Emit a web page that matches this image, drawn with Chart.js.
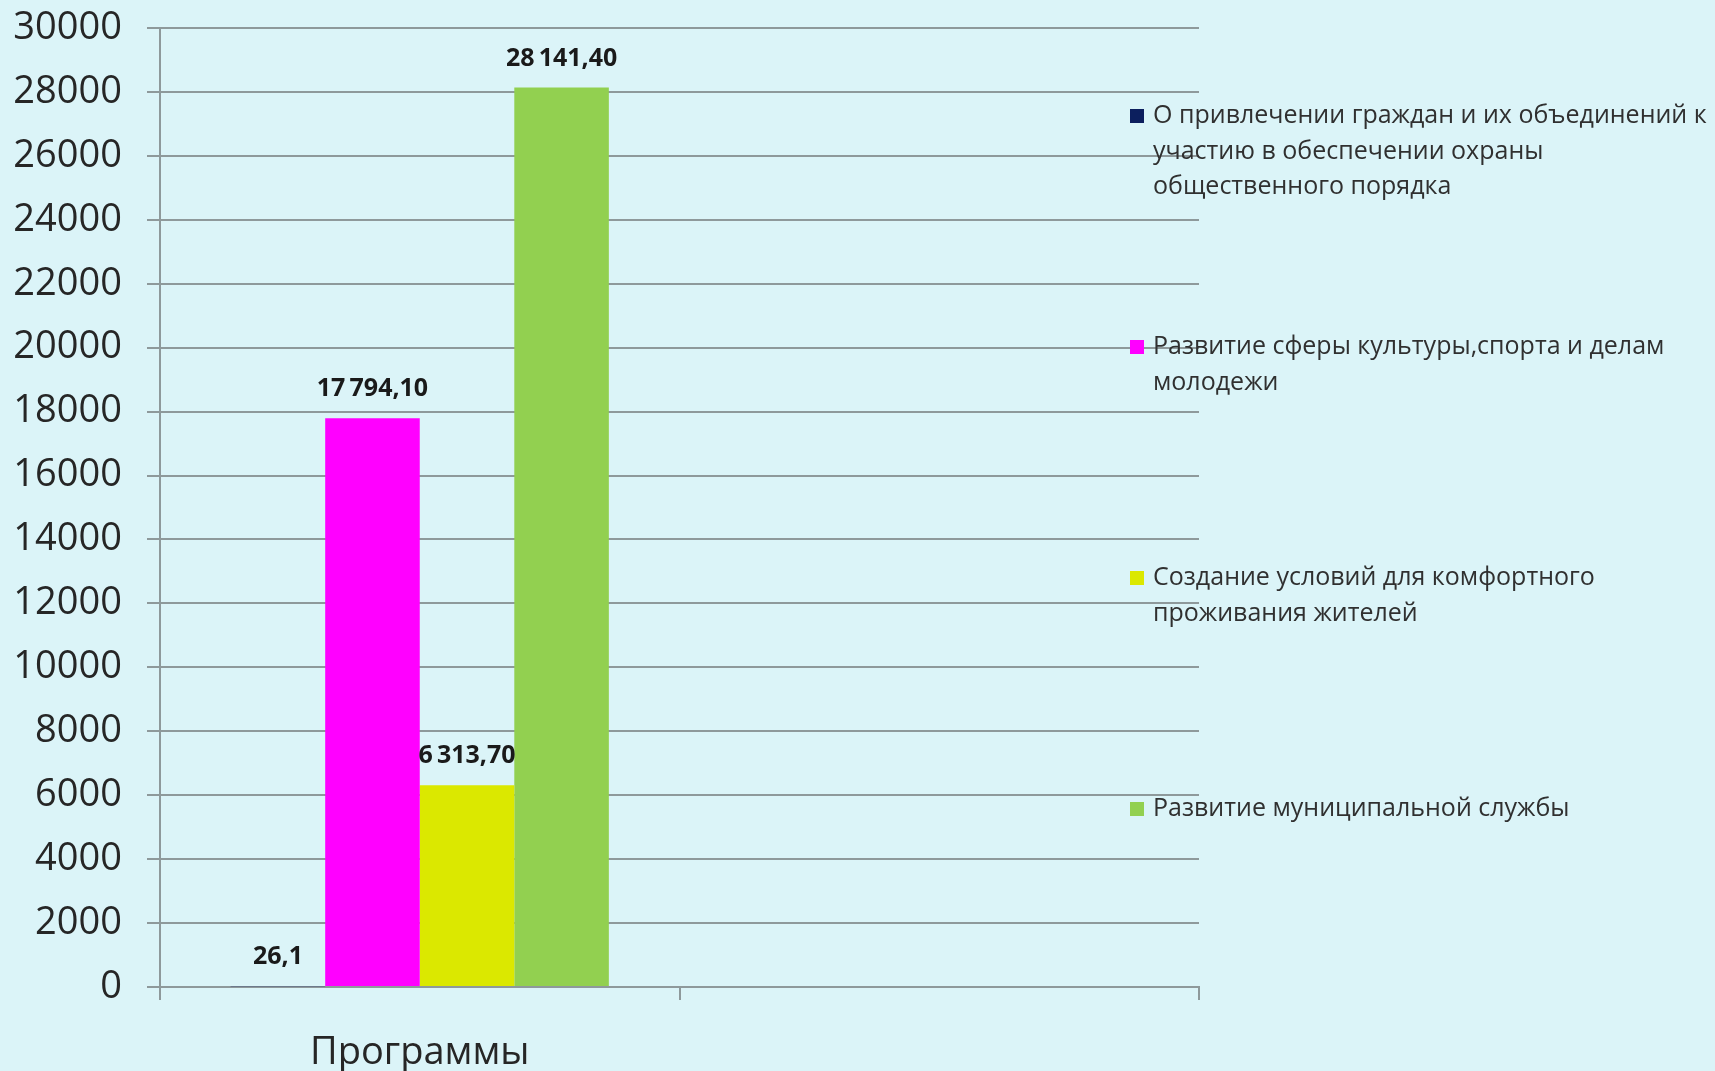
<!DOCTYPE html>
<html>
<head>
<meta charset="utf-8">
<script src="https://cdn.jsdelivr.net/npm/chart.js@4"></script>
<style>
    body { margin: 0; background: #dbf4f8; }
    canvas { display: block; }
</style>
</head>
<body>
<canvas id="programs-chart" width="1715" height="1071"></canvas>
<script>
const categories = ['Программы', ''];
const seriesNames = [
    'О привлечении граждан и их объединений к\nучастию в обеспечении охраны\nобщественного порядка',
    'Развитие сферы культуры,спорта и делам\nмолодежи',
    'Создание условий для комфортного\nпроживания жителей',
    'Развитие муниципальной службы'
];
const seriesValues = [26.1, 17794.1, 6313.7, 28141.4];
const valueDecimals = [1, 2, 2, 2];
const seriesColors = ['#0c1f5e', '#ff00ff', '#dbe800', '#92d050'];
const yMin = 0;
const yMax = 30000;
const yStep = 2000;

const gridColor = '#8e999b';
const textColor = '#262626';

// 28141.4 -> "28 141,40" (thin space between thousands)
const formatValue = (value, decimals) => {
    let [int, frac] = value.toFixed(decimals).split('.');
    int = int.replace(/\B(?=(\d{3})+(?!\d))/g, '\u2009');
    return int + ',' + frac;
};

const valueLabels = {
    id: 'valueLabels',
    afterDatasetsDraw(chart) {
        const ctx = chart.ctx;
        ctx.save();
        ctx.font = 'bold 25px "Open Sans"';
        ctx.fillStyle = '#1a1a1a';
        ctx.textAlign = 'center';
        ctx.textBaseline = 'middle';
        chart.data.datasets.forEach((ds, i) => {
            const bar = chart.getDatasetMeta(i).data[0];
            ctx.fillText(formatValue(ds.data[0], valueDecimals[i]), bar.x, bar.y - 29);
        });
        ctx.restore();
    }
};

const sideLegend = {
    id: 'sideLegend',
    afterDraw(chart) {
        const ctx = chart.ctx;
        ctx.save();
        ctx.font = '25px "Open Sans"';
        ctx.textBaseline = 'middle';
        chart.data.datasets.forEach((ds, i) => {
            const y = 116 + i * 231;
            ctx.fillStyle = ds.backgroundColor;
            ctx.fillRect(1130, y - 7, 14, 14);
            ctx.fillStyle = '#303030';
            ds.label.split('\n').forEach((line, j) => {
                ctx.fillText(line, 1153, y + j * 35.5);
            });
        });
        ctx.restore();
    }
};

const data = {
    labels: categories,
    datasets: seriesNames.map((name, i) => ({
        label: name,
        data: [seriesValues[i], null],
        backgroundColor: seriesColors[i],
        borderWidth: 0,
        barPercentage: 1,
        categoryPercentage: 0.728
    }))
};

new Chart(document.getElementById('programs-chart'), {
    type: 'bar',
    data: data,
    options: {
        responsive: false,
        animation: false,
        layout: {
            padding: { top: 28, right: 516, bottom: 0, left: 0 }
        },
        plugins: {
            legend: { display: false },
            tooltip: { enabled: false }
        },
        scales: {
            x: {
                afterFit: scale => { scale.height = 84; },
                grid: {
                    offset: true,
                    drawOnChartArea: false,
                    color: gridColor,
                    lineWidth: 2,
                    tickLength: 13
                },
                border: { color: gridColor, width: 2 },
                ticks: {
                    color: textColor,
                    padding: 30,
                    font: { family: 'Open Sans', size: 38 }
                }
            },
            y: {
                min: yMin,
                max: yMax,
                afterFit: scale => {
                    scale.width = 160;
                    scale.paddingTop = 0;
                    scale.paddingBottom = 0;
                },
                grid: {
                    color: gridColor,
                    lineWidth: 2,
                    tickLength: 13
                },
                border: { color: gridColor, width: 2 },
                ticks: {
                    stepSize: yStep,
                    color: textColor,
                    padding: 25,
                    font: { family: 'Open Sans', size: 38 },
                    callback: value => String(value)
                }
            }
        }
    },
    plugins: [valueLabels, sideLegend]
});
</script>
</body>
</html>
